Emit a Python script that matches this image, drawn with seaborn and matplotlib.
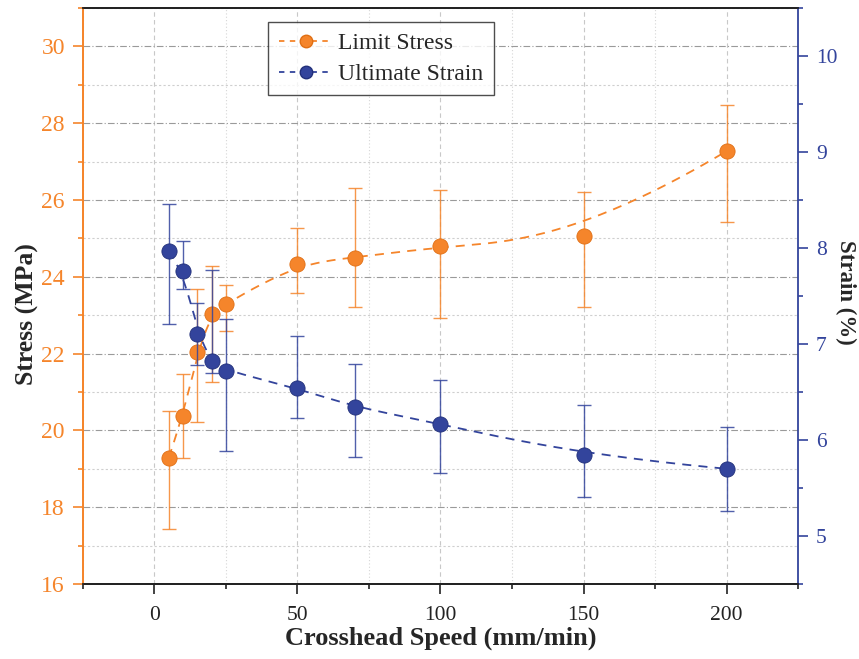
import numpy as np
import pandas as pd
import matplotlib
matplotlib.use("Agg")
import matplotlib.pyplot as plt
from matplotlib.lines import Line2D
from matplotlib.ticker import MultipleLocator
import seaborn as sns

# ---- data ----
speed = [5, 10, 15, 20, 25, 50, 70, 100, 150, 200]
stress = [19.29, 20.38, 22.04, 23.03, 23.30, 24.34, 24.50, 24.79, 25.05, 27.27]
stress_err_lo = [1.86, 1.10, 1.82, 1.76, 0.70, 0.76, 1.28, 1.86, 1.84, 1.84]
stress_err_hi = [1.22, 1.09, 1.63, 1.26, 0.48, 0.94, 1.82, 1.48, 1.16, 1.21]
strain = [7.97, 7.76, 7.10, 6.82, 6.72, 6.54, 6.34, 6.17, 5.84, 5.70]
strain_err_lo = [0.76, 0.19, 0.32, 0.12, 0.83, 0.31, 0.52, 0.51, 0.43, 0.44]
strain_err_hi = [0.49, 0.31, 0.33, 0.95, 0.54, 0.54, 0.45, 0.45, 0.52, 0.43]
x_ticks = [0, 50, 100, 150, 200]
stress_ticks = [16, 18, 20, 22, 24, 26, 28, 30]
strain_ticks = [5, 6, 7, 8, 9, 10]

ORANGE = "#F5852B"
BLUE = "#33449C"


def bspline(xs, ys, k=3, num=500):
    P = np.column_stack([xs, ys]).astype(float)
    n = len(P)
    knots = np.concatenate([np.zeros(k), np.arange(n - k + 1), np.full(k, n - k)]).astype(float)
    t = np.linspace(0, n - k, num)
    N = np.zeros((len(knots) - 1, num))
    for i in range(len(knots) - 1):
        N[i] = ((knots[i] <= t) & (t < knots[i + 1])).astype(float)
    last = np.max(np.where(knots[:-1] < knots[-1]))
    N[last, -1] = 1.0
    for p in range(1, k + 1):
        Nn = np.zeros((len(knots) - 1 - p, num))
        for i in range(len(knots) - 1 - p):
            d1 = knots[i + p] - knots[i]
            d2 = knots[i + p + 1] - knots[i + 1]
            a = (t - knots[i]) / d1 * N[i] if d1 > 0 else 0
            b = (knots[i + p + 1] - t) / d2 * N[i + 1] if d2 > 0 else 0
            Nn[i] = a + b
        N = Nn
    C = N.T @ P
    return C[:, 0], C[:, 1]


sns.set_theme(style="white")
plt.rcParams["font.family"] = ["Liberation Serif", "DejaVu Serif"]

fig = plt.figure(figsize=(8.59, 6.59), dpi=100)
ax = fig.add_axes([0.0966, 0.1138, 0.8324, 0.8742])
ax2 = ax.twinx()

ax.xaxis.set_major_locator(MultipleLocator(50))
ax.xaxis.set_minor_locator(MultipleLocator(25))
ax.yaxis.set_major_locator(MultipleLocator(2))
ax.yaxis.set_minor_locator(MultipleLocator(1))
ax2.yaxis.set_major_locator(MultipleLocator(1))
ax2.yaxis.set_minor_locator(MultipleLocator(0.5))
ax.set_xticks(x_ticks)
ax.set_yticks(stress_ticks)
ax2.set_yticks(strain_ticks)

ax.grid(True, which="major", axis="y", color="#9a9a9a", linestyle=(0, (6, 2, 1, 2)), linewidth=0.8)
ax.grid(True, which="minor", axis="y", color="#cfcfcf", linestyle=(0, (2, 2)), linewidth=0.8)
ax.grid(True, which="major", axis="x", color="#c8c8c8", linestyle=(0, (4, 3)), linewidth=0.8)
ax.grid(True, which="minor", axis="x", color="#d6d6d6", linestyle=(0, (1, 2)), linewidth=0.8)
ax.set_axisbelow(True)

# stress curve
sx, sy = bspline(speed, stress)
df_s = pd.DataFrame({"x": sx, "y": sy})
sns.lineplot(data=df_s, x="x", y="y", ax=ax, color=ORANGE, linewidth=1.3,
             linestyle=(0, (5, 4)), sort=False, legend=False, zorder=3)
ax.errorbar(speed, stress, yerr=[stress_err_lo, stress_err_hi], fmt="none",
            ecolor=ORANGE, elinewidth=1.0, capsize=5, capthick=1.0, alpha=0.85, zorder=4)
sns.scatterplot(x=speed, y=stress, ax=ax, color=ORANGE, s=120, edgecolor="#E06F14",
                linewidth=0.6, zorder=5, legend=False)

# strain curve
bx, by = bspline(speed, strain)
df_b = pd.DataFrame({"x": bx, "y": by})
sns.lineplot(data=df_b, x="x", y="y", ax=ax2, color=BLUE, linewidth=1.3,
             linestyle=(0, (5, 4)), sort=False, legend=False, zorder=3)
ax2.errorbar(speed, strain, yerr=[strain_err_lo, strain_err_hi], fmt="none",
             ecolor=BLUE, elinewidth=1.0, capsize=5, capthick=1.0, alpha=0.85, zorder=4)
sns.scatterplot(x=speed, y=strain, ax=ax2, color=BLUE, s=120, edgecolor="#22307A",
                linewidth=0.6, zorder=5, legend=False)

ax.set_xlim(-25, 225)
ax.set_ylim(16, 31)
ax2.set_ylim(4.5, 10.5)

# spines
for a in (ax, ax2):
    for s in a.spines.values():
        s.set_linewidth(1.3)
        s.set_color("#222222")
ax.spines["left"].set_color(ORANGE)
ax2.spines["left"].set_color(ORANGE)
ax2.spines["right"].set_color(BLUE)
ax.spines["right"].set_visible(False)

ax.tick_params(axis="y", which="major", direction="out", length=7, width=1.2, pad=6,
               color=ORANGE, labelcolor=ORANGE, labelsize=17, left=True)
ax.tick_params(axis="y", which="minor", direction="out", length=3.6, width=1.2,
               color=ORANGE, left=True)
ax.tick_params(axis="x", which="major", direction="out", length=7, width=1.2, pad=9,
               color="#222222", labelcolor="#222222", labelsize=15.5, bottom=True)
ax.tick_params(axis="x", which="minor", direction="out", length=3.6, width=1.2,
               color="#222222", bottom=True)
ax2.tick_params(axis="y", which="major", direction="out", length=7, width=1.2, pad=6,
                color=BLUE, labelcolor=BLUE, labelsize=15.5, right=True)
ax2.tick_params(axis="y", which="minor", direction="out", length=3.6, width=1.2,
                color=BLUE, right=True)

ax.set_xlabel("Crosshead Speed (mm/min)", fontsize=19, fontweight="bold", va="top")
ax.xaxis.set_label_coords(0.5, -0.074)
ax.set_ylabel("Stress (MPa)", fontsize=18.5, fontweight="bold", va="center")
ax.yaxis.set_label_coords(-0.078, 0.469)
ax2.set_ylabel("Strain (%)", fontsize=16.5, fontweight="bold", rotation=270, va="center")
ax2.yaxis.set_label_coords(1.067, 0.507)

handles = [
    Line2D([0], [0], color=ORANGE, linestyle=(0, (3, 3)), linewidth=1.3, marker="o",
           markersize=9, markerfacecolor=ORANGE, markeredgecolor="#E06F14"),
    Line2D([0], [0], color=BLUE, linestyle=(0, (3, 3)), linewidth=1.3, marker="o",
           markersize=9, markerfacecolor=BLUE, markeredgecolor="#22307A"),
]
leg = ax2.legend(handles, ["Limit Stress", "Ultimate Strain"], loc="upper left",
                 bbox_to_anchor=(0.259, 0.976), frameon=True, fancybox=False,
                 edgecolor="#222222", fontsize=17, handlelength=2.3,
                 borderpad=0.45, labelspacing=0.4, handletextpad=0.2,
                 borderaxespad=0)
leg.get_frame().set_linewidth(1.0)
leg.set_zorder(10)

fig.savefig("out.png", dpi=100)
